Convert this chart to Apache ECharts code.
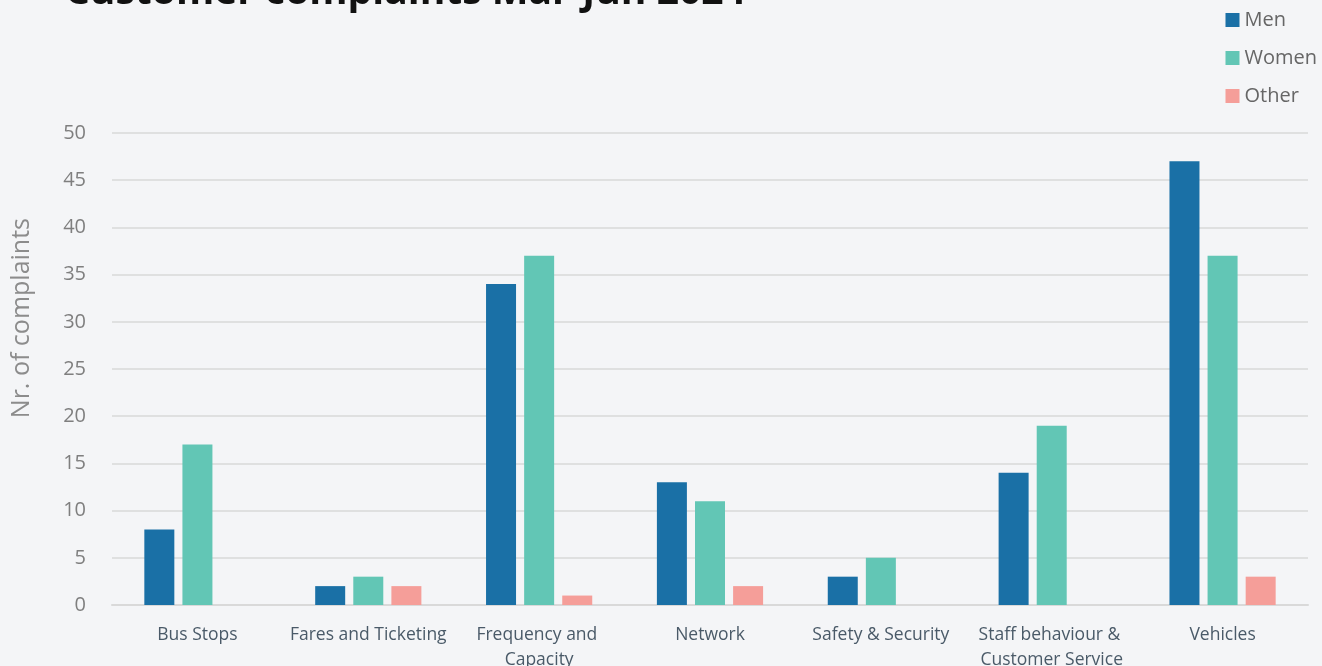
<!DOCTYPE html>
<html><head><meta charset="utf-8">
<script src="https://cdn.jsdelivr.net/npm/echarts@6/dist/echarts.min.js"></script>
<style>html,body{margin:0;padding:0;background:#f4f5f7;}#c{width:1322px;height:666px;}</style>
</head><body><div id="c"></div>
<script>
const categories = ["Bus Stops","Fares and Ticketing","Frequency and Capacity","Network","Safety & Security","Staff behaviour & Customer Service","Vehicles"];
const men = [8,2,34,13,3,14,47];
const women = [17,3,37,11,5,19,37];
const other = [0,2,1,2,0,0,3];
const seriesNames = ["Men","Women","Other"];
const colors = ["#1a70a6","#62c6b5","#f59e99"];
const FONT = "'Open Sans', 'Noto Sans', sans-serif";
const chart = echarts.init(document.getElementById('c'));
chart.setOption({
  backgroundColor: '#f4f5f7',
  color: colors,
  animation: false,
  title: {
    text: 'Customer complaints Mar-Jun 2024',
    left: 60, top: -32,
    textStyle: {fontFamily: FONT, fontSize: 39, fontWeight: 'bold', color: '#111'}
  },
  legend: {
    orient: 'vertical', right: 0, top: 2, itemGap: 12,
    itemWidth: 14, itemHeight: 14, icon: 'rect',
    textStyle: {fontFamily: FONT, fontSize: 20, color: '#666', lineHeight: 26},
    data: seriesNames
  },
  graphic: [{
    type: 'text', left: 9, top: 218, rotation: Math.PI/2,
    style: {text: 'Nr. of complaints', fontFamily: FONT, fontSize: 25, fill: '#8c8c8c'}
  }],
  grid: {left: 112, right: 14, top: 133, bottom: 61, containLabel: false, outerBoundsMode: 'none'},
  xAxis: {
    type: 'category', data: categories,
    axisLine: {lineStyle: {color: '#d9d9d9', width: 2}},
    axisTick: {show: false},
    axisLabel: {interval: 0, fontFamily: FONT, fontSize: 17.5, color: '#4a5a68', margin: 18,
      width: 168, overflow: 'break', lineHeight: 25}
  },
  yAxis: {
    type: 'value', min: 0, max: 50, interval: 5,
    axisLine: {show: false}, axisTick: {show: false},
    splitLine: {lineStyle: {color: '#d9d9d9', width: 1.5}},
    axisLabel: {fontFamily: FONT, fontSize: 20, color: '#7f7f7f', margin: 26}
  },
  series: [
    {name: seriesNames[0], type: 'bar', data: men, barWidth: 30, barGap: '27%'},
    {name: seriesNames[1], type: 'bar', data: women, barWidth: 30, barGap: '27%'},
    {name: seriesNames[2], type: 'bar', data: other, barWidth: 30, barGap: '27%'}
  ]
});
</script></body></html>
